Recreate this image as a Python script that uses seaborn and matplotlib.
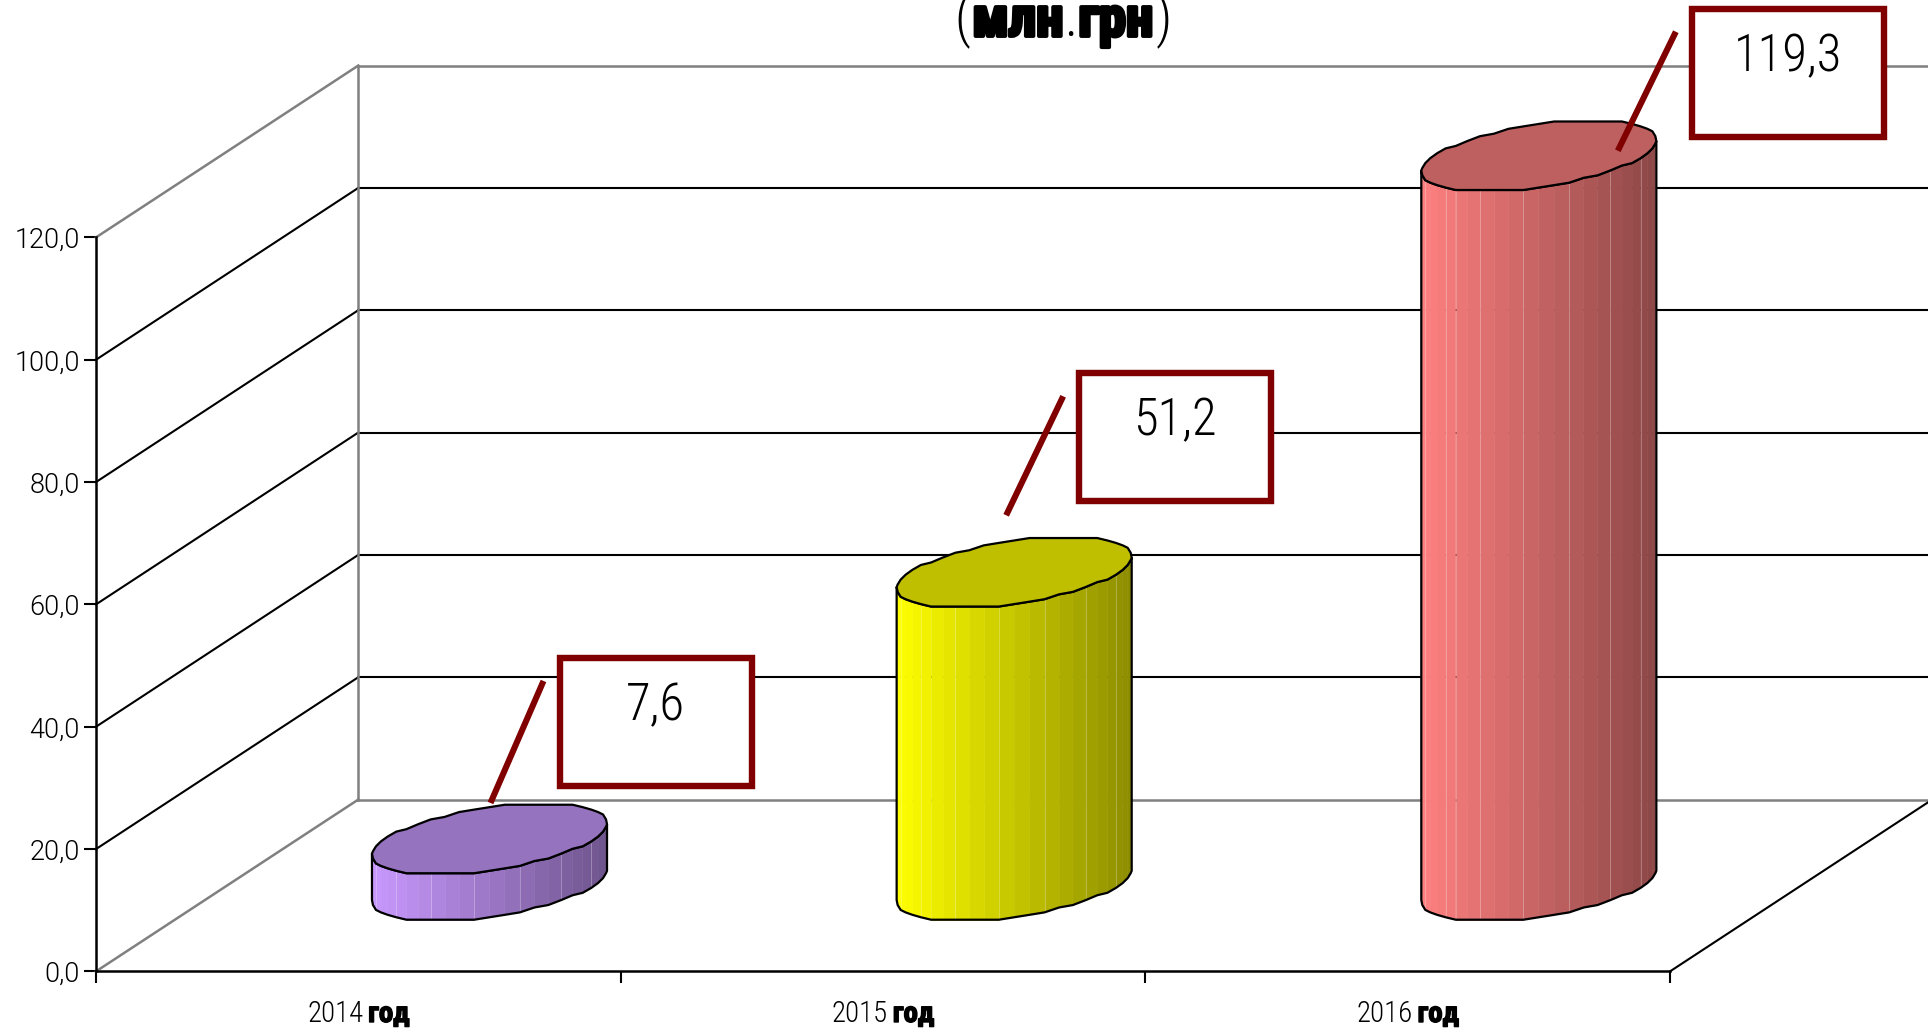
import numpy as np
import pandas as pd
import matplotlib
matplotlib.use("Agg")
import matplotlib.pyplot as plt
import matplotlib.patheffects as pe
from matplotlib.lines import Line2D
from matplotlib.patches import Rectangle, Polygon
from matplotlib.transforms import IdentityTransform
from matplotlib.ticker import FuncFormatter
import seaborn as sns

# ---- data ----
years = ["2014", "2015", "2016"]
values = [7.6, 51.2, 119.3]
bar_colors = ["#c899ff", "#ffff00", "#ff8080"]
year_word = "год"
value_ticks = [0, 20, 40, 60, 80, 100, 120]

# ---- layout ----
W, H = 1928, 1032
DPI = 100
DEPTH_X, DEPTH_Y = 0.5, 28.1     # oblique offset of the back wall (category / value units)
HALF_DEPTH = 5.73                # half depth of a cylinder in value units
SHEAR = 0.1007                   # sideways shift of the depth direction in category units
BAR_WIDTH = 0.448
N_STRIPS = 24
Y_SNAP = 0.4                     # coarse vertical step of the cylinder outline, value units
NARROW = "Roboto Condensed"
# pixel offsets from a cylinder's top centre: leader end, leader start, box
leader_end = [(1, 36), (-8, 57), (79, 5)]
leader_dx = [(53, 122), (57, 119), (58, 119)]
BOX_DX, BOX_DY = (16, -105)
BOX_W, BOX_H = 192, 128

sns.set_theme(style="white")
plt.rcParams["font.family"] = ["Roboto", "DejaVu Sans"]
plt.rcParams["font.weight"] = 300

fig = plt.figure(figsize=(W / DPI, H / DPI), dpi=DPI, facecolor="white")
ax = fig.add_axes([96 / W, (H - 971.4) / H, 1574 / W, 734 / H])
ax.patch.set_alpha(0)

df = pd.DataFrame({"year": years, "value": values})
sns.barplot(data=df, x="year", y="value", hue="year", palette=bar_colors,
            width=BAR_WIDTH, legend=False, ax=ax, zorder=0)

ax.set_xlim(-0.5, 2.5)
ax.set_ylim(0, 120)
ax.set_xlabel("")
ax.set_ylabel("")
ax.set_yticks(value_ticks)
ax.yaxis.set_major_formatter(FuncFormatter(lambda v, _: f"{v:.1f}".replace(".", ",")))
ax.set_xticks([-0.5, 0.5, 1.5, 2.5], ["", "", "", ""])
ax.tick_params(axis="both", length=8.6, width=1.5, color="black", left=True, bottom=True, pad=3)
ax.tick_params(axis="y", labelsize=19.5, labelcolor="black")
for side in ["top", "right"]:
    ax.spines[side].set_visible(False)
for side in ["left", "bottom"]:
    ax.spines[side].set_color("black")
    ax.spines[side].set_linewidth(1.8)
    ax.spines[side].set_zorder(6)


def wall(xs, ys, color, lw=1.5, z=1):
    ax.add_line(Line2D(xs, ys, color=color, lw=lw, clip_on=False, zorder=z,
                       solid_capstyle="projecting"))


# walls and floor
x_l, x_r = ax.get_xlim()
for v in value_ticks:
    col = "#808080" if v in (0, 120) else "black"
    wall([x_l + DEPTH_X, x_r + DEPTH_X], [v + DEPTH_Y] * 2, col, 1.8 if col != "black" else 1.5)
    wall([x_l, x_l + DEPTH_X], [v, v + DEPTH_Y], col, 1.8 if col != "black" else 1.5)
wall([x_l + DEPTH_X] * 2, [DEPTH_Y, 120 + DEPTH_Y], "#808080", 1.8)
wall([x_r, x_r + DEPTH_X], [0, DEPTH_Y], "black", 1.5)


def mix(color, factor):
    return tuple(np.array(matplotlib.colors.to_rgb(color)) * factor)


# cylinders, taken from the bars seaborn laid out
a = np.sqrt((BAR_WIDTH / 2) ** 2 - SHEAR ** 2)
t_right = np.arctan2(SHEAR, a)
fig.canvas.draw()
tops = []
for patch, color in zip(ax.patches, bar_colors):
    cx = patch.get_x() + patch.get_width() / 2 + DEPTH_X / 2
    h = patch.get_height()
    patch.set_facecolor("none")
    patch.set_linewidth(0)
    y0 = DEPTH_Y / 2
    y1 = y0 + h

    ts = np.linspace(t_right, t_right - np.pi, N_STRIPS + 1)
    ex = cx + a * np.cos(ts) + SHEAR * np.sin(ts)
    ey = np.round(HALF_DEPTH * np.sin(ts) / Y_SNAP) * Y_SNAP
    frac = (ex - ex.min()) / (ex.max() - ex.min())
    for i in range(N_STRIPS):
        f = 1.0 - 0.45 * (frac[i] + frac[i + 1]) / 2
        c = mix(color, f)
        verts = [(ex[i], y0 + ey[i]), (ex[i + 1], y0 + ey[i + 1]),
                 (ex[i + 1], y1 + ey[i + 1]), (ex[i], y1 + ey[i])]
        ax.add_patch(Polygon(verts, closed=True, facecolor=c, edgecolor=c, lw=0.4,
                             clip_on=False, zorder=3))
        if i % 3 == 1:
            ax.add_line(Line2D([ex[i]] * 2, [y0 + ey[i], y1 + ey[i]], color="white", alpha=0.3,
                               lw=0.6, clip_on=False, zorder=3.2))
    # silhouette
    sx = list(ex) + list(ex[::-1])
    sy = list(y0 + ey) + list(y1 + ey[::-1])
    ax.add_patch(Polygon(np.column_stack([sx, sy]), closed=True, fill=False, edgecolor="black",
                         lw=1.6, clip_on=False, zorder=4))
    # top face
    tt = np.linspace(0, 2 * np.pi, 2 * N_STRIPS, endpoint=False) + t_right
    tx = cx + a * np.cos(tt) + SHEAR * np.sin(tt)
    ty = y1 + np.round(HALF_DEPTH * np.sin(tt) / Y_SNAP) * Y_SNAP
    ax.add_patch(Polygon(np.column_stack([tx, ty]), closed=True, facecolor=mix(color, 0.75),
                         edgecolor="black", lw=1.6, clip_on=False, zorder=4.5))
    tops.append(ax.transData.transform((cx, y1)))

# callouts
idt = IdentityTransform()
for (tx, ty), v, (ex_, ey_), (ldx, ldy) in zip(tops, values, leader_end, leader_dx):
    xe, ye = tx + ex_, ty + ey_
    xs, ys = xe + ldx, ye + ldy
    fig.add_artist(Line2D([xe, xs], [ye, ys], color="#800000", lw=4.4, transform=idt,
                          solid_capstyle="butt", zorder=7))
    bx, by = xs + BOX_DX, ys + BOX_DY
    fig.add_artist(Rectangle((bx, by), BOX_W, BOX_H, facecolor="white", edgecolor="#800000",
                             lw=4.6, transform=idt, zorder=7))
    fig.text(bx + BOX_W / 2, by + BOX_H - 48, f"{v:.1f}".replace(".", ","), ha="center",
             va="center", fontsize=36.5, fontweight=300, family=[NARROW, "DejaVu Sans"],
             color="black", transform=idt, zorder=8)


def runs(parts, xc, y, size, stroke=0.0):
    """Write runs of differing weight side by side, centred on xc (pixels)."""
    rend = fig.canvas.get_renderer()
    arts = []
    total = 0
    for text, heavy, gap in parts:
        t = fig.text(0, y, text, fontsize=size, va="baseline", ha="left", color="black",
                     transform=idt, family=[NARROW, "DejaVu Sans"],
                     fontweight=700 if heavy else 300, zorder=8)
        if heavy and stroke:
            t.set_path_effects([pe.withStroke(linewidth=stroke, foreground="black")])
        w = t.get_window_extent(rend).width
        arts.append((t, w, gap))
        total += w + gap
    x = xc - total / 2
    for t, w, gap in arts:
        t.set_x(x)
        x += w + gap


# category labels
for i, y in enumerate(years):
    xc = ax.transData.transform((i, 0))[0]
    runs([(y, False, 5), (year_word, True, 0)], xc, H - 1022, 20.8, stroke=1.0)

# title
runs([("(", False, 2), ("млн", True, 1), (".", False, 1), ("грн", True, 2), (")", False, 0)],
     1063, H - 36, 39.5, stroke=2.8)

fig.savefig("out.png", dpi=DPI, facecolor="white")
